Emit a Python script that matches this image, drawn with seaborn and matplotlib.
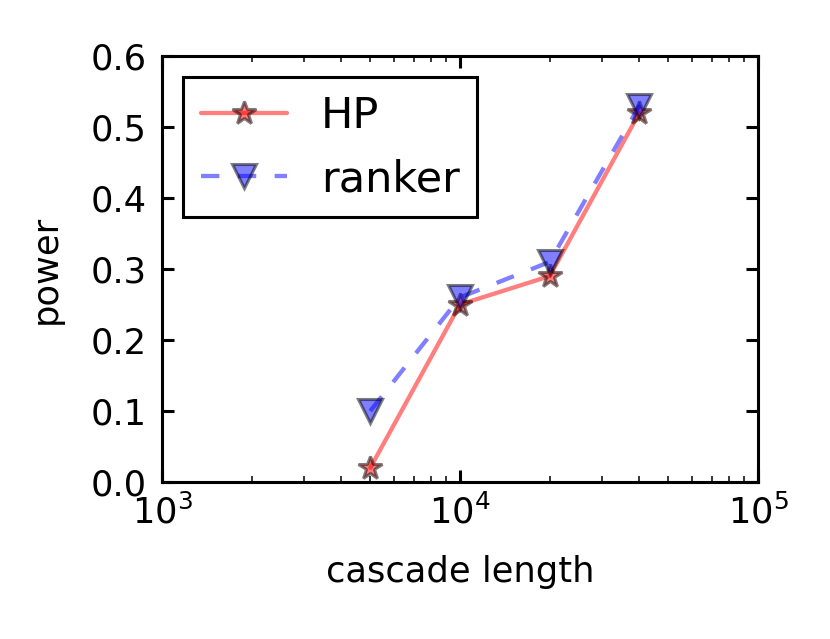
import matplotlib
matplotlib.use('Agg')
import matplotlib.pyplot as plt
import seaborn as sns
import pandas as pd

# data
cascade_length = [5000, 10000, 20000, 40000]
hp_power = [0.02, 0.25, 0.29, 0.52]
ranker_power = [0.10, 0.26, 0.31, 0.53]

sns.set_style('white')
plt.rcParams.update({
    'font.family': ['DejaVu Sans'],
    'font.size': 11.5,
    'axes.linewidth': 1.0,
    'axes.edgecolor': 'black',
    'xtick.direction': 'in', 'ytick.direction': 'in',
    'xtick.top': True, 'ytick.right': True,
    'xtick.bottom': True, 'ytick.left': True,
    'xtick.major.size': 4, 'ytick.major.size': 4,
    'xtick.minor.size': 2, 'ytick.minor.size': 2,
    'xtick.major.width': 1.0, 'ytick.major.width': 1.0,
    'xtick.minor.width': 0.5, 'ytick.minor.width': 0.5,
    'xtick.major.pad': 4, 'ytick.major.pad': 5,
    'xtick.color': 'black', 'ytick.color': 'black',
    'xtick.labelsize': 11.5, 'ytick.labelsize': 11.5,
    'lines.scale_dashes': False,
    'text.color': 'black', 'axes.labelcolor': 'black',
})

df = pd.DataFrame({'length': cascade_length, 'HP': hp_power, 'ranker': ranker_power})

dpi = 221
fig = plt.figure(figsize=(830 / dpi, 639 / dpi), dpi=dpi)
ax = fig.add_axes([162 / 830, 1 - 482 / 639, (758 - 162) / 830, (482 - 56) / 639])

sns.lineplot(data=df, x='length', y='HP', ax=ax, color='r', alpha=0.5, lw=1.4,
             marker='*', markersize=8, markeredgecolor='k', markeredgewidth=1.0,
             label='HP')
sns.lineplot(data=df, x='length', y='ranker', ax=ax, color='b', alpha=0.5, lw=1.4,
             marker='v', markersize=8, markeredgecolor='k', markeredgewidth=1.0,
             label='ranker', dashes=False)
ax.lines[1].set_linestyle((0, (6, 6)))

ax.set_xscale('log')
ax.set_xlim(1e3, 1e5)
ax.set_ylim(0, 0.6)
ax.set_yticks([0.0, 0.1, 0.2, 0.3, 0.4, 0.5, 0.6])
ax.set_yticklabels(['0.0', '0.1', '0.2', '0.3', '0.4', '0.5', '0.6'])
ax.set_xlabel('cascade length', fontsize=11.5, labelpad=8)
ax.set_ylabel('power', fontsize=11.5, labelpad=9)
ax.tick_params(which='both', top=True, right=True, direction='in')

leg = ax.legend(loc='upper left', fontsize=14, numpoints=1, handlelength=2.0,
                handletextpad=0.8, borderpad=0.4, labelspacing=0.5,
                borderaxespad=0.5, fancybox=False, frameon=True)
leg.get_frame().set_edgecolor('black')
leg.get_frame().set_linewidth(1.0)
leg.get_frame().set_alpha(1.0)
for h in leg.legend_handles:
    h.set_linewidth(1.4)

fig.savefig('out.png', dpi=dpi, facecolor='white')
